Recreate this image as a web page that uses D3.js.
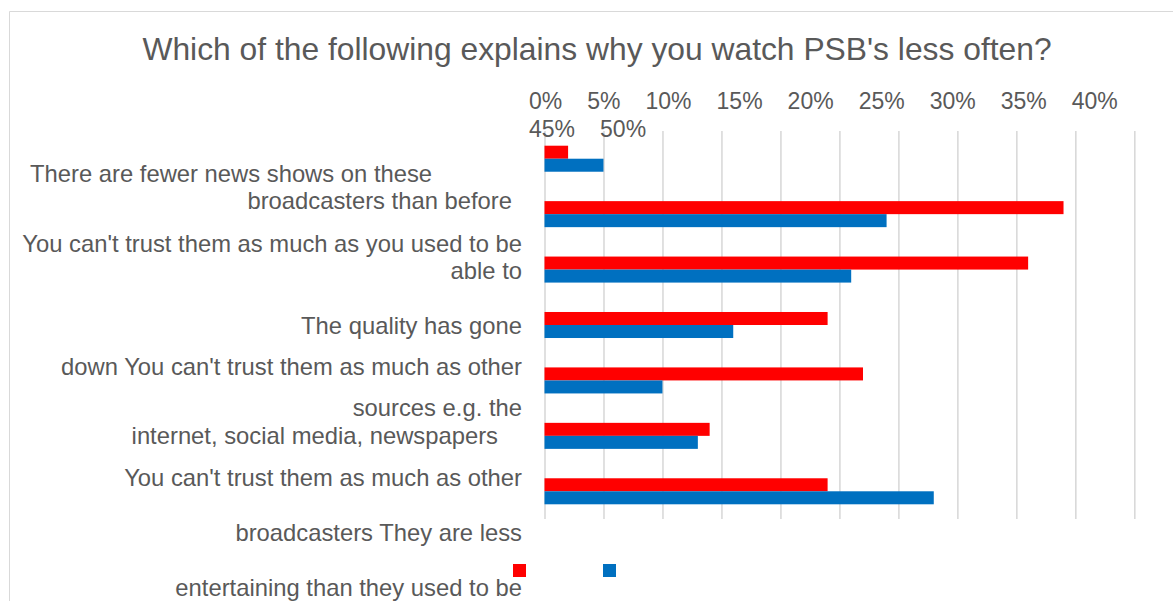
<!DOCTYPE html>
<html>
<head>
<meta charset="utf-8">
<script src="https://cdn.jsdelivr.net/npm/d3@7"></script>
<style>
  html, body { margin: 0; padding: 0; background: #ffffff; }
  svg { display: block; font-family: "Liberation Sans", Arial, sans-serif; }
</style>
</head>
<body>
<svg id="chart" width="1173" height="601"></svg>
<script>
// ---------------- data ----------------
const title = "Which of the following explains why you watch PSB's less often?";
const labelLines = [
  "There are fewer news shows on these",
  "broadcasters than before",
  "You can't trust them as much as you used to be",
  "able to",
  "The quality has gone",
  "down You can't trust them as much as other",
  "sources e.g. the",
  "internet, social media, newspapers",
  "You can't trust them as much as other",
  "broadcasters They are less",
  "entertaining than they used to be"
];
const seriesNames = ["Series 1", "Series 2"];
const seriesRed  = [2, 44, 41, 24, 27, 14, 24];
const seriesBlue = [5, 29, 26, 16, 10, 13, 33];
const tickValues = [0, 5, 10, 15, 20, 25, 30, 35, 40, 45, 50];
const tickLabels = ["0%", "5%", "10%", "15%", "20%", "25%", "30%", "35%", "40%", "45%", "50%"];

// ---------------- layout / style ----------------
const W = 1173, H = 601;
const textColor = "#595959";
const gridColor = "#d9d9d9";
const colors = ["#ff0000", "#0070c0"];
const plot = { left: 544.5, right: 1134.3, top: 131, bottom: 519 };
// label line placement: [anchor, x, baseline]
const labelLayout = [
  ["start", 30, 182], ["end", 512, 209], ["end", 522, 252], ["end", 522, 279],
  ["end", 522, 334], ["end", 522, 375], ["end", 522, 416], ["end", 498, 444],
  ["end", 522, 486], ["end", 522, 541], ["end", 522, 596]
];

const svg = d3.select("#chart");

// chart border
svg.append("path")
  .attr("d", `M9.5,${H} V11.5 H${W}`)
  .attr("fill", "none").attr("stroke", gridColor).attr("stroke-width", 1);

// title
svg.append("text")
  .attr("x", 597).attr("y", 60)
  .attr("text-anchor", "middle")
  .attr("fill", textColor)
  .style("font-size", "31.8px")
  .text(title);

// scales
const x = d3.scaleLinear().domain([0, 50]).range([plot.left, plot.right]);
const groups = d3.range(seriesRed.length);
const y = d3.scaleBand().domain(groups).range([plot.top, plot.bottom]).padding(0);
const ySub = d3.scaleBand().domain([0, 1]).range([0, y.bandwidth()])
  .paddingInner(0).paddingOuter(1.13);

// gridlines via axis
const gridAxis = d3.axisBottom(x).tickValues(tickValues)
  .tickSize(plot.bottom - plot.top).tickFormat("");
const gg = svg.append("g").attr("transform", `translate(0,${plot.top})`).call(gridAxis);
gg.select(".domain").remove();
gg.selectAll(".tick line").attr("stroke", gridColor).attr("stroke-width", 1.6);

// bars
const seriesData = [seriesRed, seriesBlue];
seriesData.forEach((vals, si) => {
  svg.append("g").selectAll("rect")
    .data(vals)
    .join("rect")
    .attr("x", x(0))
    .attr("y", (d, i) => y(groups[i]) + ySub(si))
    .attr("width", d => x(d) - x(0))
    .attr("height", ySub.bandwidth())
    .attr("fill", colors[si]);
});

// tick labels (flowed text, wrapping like the reference)
const tickG = svg.append("g").attr("fill", textColor).style("font-size", "23px");
let cx = 529, row = 0;
const rowY = [109, 137], gap = 25, wrapAt = 1150;
tickLabels.forEach(t => {
  const el = tickG.append("text").text(t);
  const w = el.node().getComputedTextLength();
  if (cx + w > wrapAt) { row += 1; cx = 529; }
  el.attr("x", cx).attr("y", rowY[row]);
  cx += w + gap;
});

// category label lines
const lg = svg.append("g").attr("fill", textColor).style("font-size", "23.8px");
labelLines.forEach((t, i) => {
  const [anchor, lx, ly] = labelLayout[i];
  lg.append("text").attr("x", lx).attr("y", ly).attr("text-anchor", anchor).text(t);
});

// legend (markers only, as in the reference)
const legend = svg.append("g").attr("transform", "translate(513,564)");
seriesNames.forEach((n, i) => {
  legend.append("rect")
    .attr("x", i * 90).attr("y", 0)
    .attr("width", 13).attr("height", 13)
    .attr("fill", colors[i]);
});
</script>
</body>
</html>
